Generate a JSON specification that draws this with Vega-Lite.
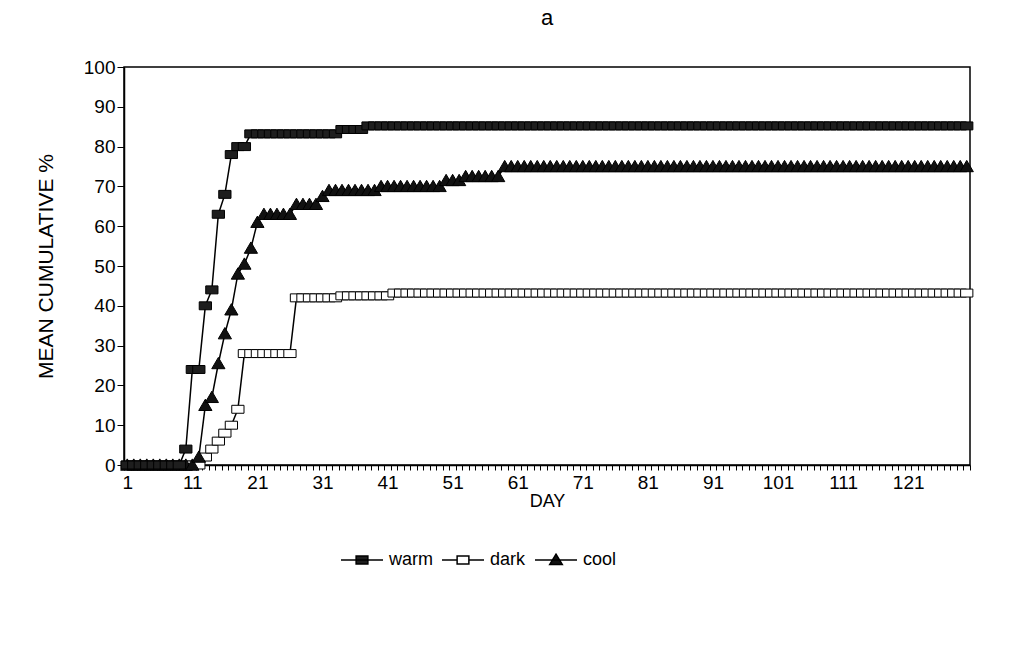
{
"$schema": "https://vega.github.io/schema/vega-lite/v6.json",
"width": 846,
"height": 398,
"autosize": {"type": "none"},
"padding": {"left": 124, "top": 67, "right": 65, "bottom": 207},
"background": "white",
"config": {
"font": "Liberation Sans",
"view": {"stroke": "black", "strokeWidth": 1.5},
"axis": {"labelFont": "Liberation Sans", "labelFontSize": 19, "labelColor": "black", "titleFont": "Liberation Sans", "titleFontSize": 18, "titleFontWeight": "normal", "titleColor": "black", "domainColor": "black", "domainWidth": 1.5, "tickColor": "black", "tickWidth": 1, "grid": false},
"legend": {"labelFont": "Liberation Sans", "labelFontSize": 18, "labelColor": "black"}
},
"title": {"text": "a", "font": "Liberation Sans", "fontSize": 22, "fontWeight": "normal", "color": "black", "offset": 28, "anchor": "middle"},
"datasets": {
"cum": [
{"day":1,"series":"dark","pct":0},{"day":2,"series":"dark","pct":0},{"day":3,"series":"dark","pct":0},{"day":4,"series":"dark","pct":0},{"day":5,"series":"dark","pct":0},{"day":6,"series":"dark","pct":0},{"day":7,"series":"dark","pct":0},{"day":8,"series":"dark","pct":0},{"day":9,"series":"dark","pct":0},{"day":10,"series":"dark","pct":0},
{"day":11,"series":"dark","pct":0},{"day":12,"series":"dark","pct":0},{"day":13,"series":"dark","pct":2},{"day":14,"series":"dark","pct":4},{"day":15,"series":"dark","pct":6},{"day":16,"series":"dark","pct":8},{"day":17,"series":"dark","pct":10},{"day":18,"series":"dark","pct":14},{"day":19,"series":"dark","pct":28},{"day":20,"series":"dark","pct":28},
{"day":21,"series":"dark","pct":28},{"day":22,"series":"dark","pct":28},{"day":23,"series":"dark","pct":28},{"day":24,"series":"dark","pct":28},{"day":25,"series":"dark","pct":28},{"day":26,"series":"dark","pct":28},{"day":27,"series":"dark","pct":42},{"day":28,"series":"dark","pct":42},{"day":29,"series":"dark","pct":42},{"day":30,"series":"dark","pct":42},
{"day":31,"series":"dark","pct":42},{"day":32,"series":"dark","pct":42},{"day":33,"series":"dark","pct":42},{"day":34,"series":"dark","pct":42.5},{"day":35,"series":"dark","pct":42.5},{"day":36,"series":"dark","pct":42.5},{"day":37,"series":"dark","pct":42.5},{"day":38,"series":"dark","pct":42.5},{"day":39,"series":"dark","pct":42.5},{"day":40,"series":"dark","pct":42.5},
{"day":41,"series":"dark","pct":42.5},{"day":42,"series":"dark","pct":43.2},{"day":43,"series":"dark","pct":43.2},{"day":44,"series":"dark","pct":43.2},{"day":45,"series":"dark","pct":43.2},{"day":46,"series":"dark","pct":43.2},{"day":47,"series":"dark","pct":43.2},{"day":48,"series":"dark","pct":43.2},{"day":49,"series":"dark","pct":43.2},{"day":50,"series":"dark","pct":43.2},
{"day":51,"series":"dark","pct":43.2},{"day":52,"series":"dark","pct":43.2},{"day":53,"series":"dark","pct":43.2},{"day":54,"series":"dark","pct":43.2},{"day":55,"series":"dark","pct":43.2},{"day":56,"series":"dark","pct":43.2},{"day":57,"series":"dark","pct":43.2},{"day":58,"series":"dark","pct":43.2},{"day":59,"series":"dark","pct":43.2},{"day":60,"series":"dark","pct":43.2},
{"day":61,"series":"dark","pct":43.2},{"day":62,"series":"dark","pct":43.2},{"day":63,"series":"dark","pct":43.2},{"day":64,"series":"dark","pct":43.2},{"day":65,"series":"dark","pct":43.2},{"day":66,"series":"dark","pct":43.2},{"day":67,"series":"dark","pct":43.2},{"day":68,"series":"dark","pct":43.2},{"day":69,"series":"dark","pct":43.2},{"day":70,"series":"dark","pct":43.2},
{"day":71,"series":"dark","pct":43.2},{"day":72,"series":"dark","pct":43.2},{"day":73,"series":"dark","pct":43.2},{"day":74,"series":"dark","pct":43.2},{"day":75,"series":"dark","pct":43.2},{"day":76,"series":"dark","pct":43.2},{"day":77,"series":"dark","pct":43.2},{"day":78,"series":"dark","pct":43.2},{"day":79,"series":"dark","pct":43.2},{"day":80,"series":"dark","pct":43.2},
{"day":81,"series":"dark","pct":43.2},{"day":82,"series":"dark","pct":43.2},{"day":83,"series":"dark","pct":43.2},{"day":84,"series":"dark","pct":43.2},{"day":85,"series":"dark","pct":43.2},{"day":86,"series":"dark","pct":43.2},{"day":87,"series":"dark","pct":43.2},{"day":88,"series":"dark","pct":43.2},{"day":89,"series":"dark","pct":43.2},{"day":90,"series":"dark","pct":43.2},
{"day":91,"series":"dark","pct":43.2},{"day":92,"series":"dark","pct":43.2},{"day":93,"series":"dark","pct":43.2},{"day":94,"series":"dark","pct":43.2},{"day":95,"series":"dark","pct":43.2},{"day":96,"series":"dark","pct":43.2},{"day":97,"series":"dark","pct":43.2},{"day":98,"series":"dark","pct":43.2},{"day":99,"series":"dark","pct":43.2},{"day":100,"series":"dark","pct":43.2},
{"day":101,"series":"dark","pct":43.2},{"day":102,"series":"dark","pct":43.2},{"day":103,"series":"dark","pct":43.2},{"day":104,"series":"dark","pct":43.2},{"day":105,"series":"dark","pct":43.2},{"day":106,"series":"dark","pct":43.2},{"day":107,"series":"dark","pct":43.2},{"day":108,"series":"dark","pct":43.2},{"day":109,"series":"dark","pct":43.2},{"day":110,"series":"dark","pct":43.2},
{"day":111,"series":"dark","pct":43.2},{"day":112,"series":"dark","pct":43.2},{"day":113,"series":"dark","pct":43.2},{"day":114,"series":"dark","pct":43.2},{"day":115,"series":"dark","pct":43.2},{"day":116,"series":"dark","pct":43.2},{"day":117,"series":"dark","pct":43.2},{"day":118,"series":"dark","pct":43.2},{"day":119,"series":"dark","pct":43.2},{"day":120,"series":"dark","pct":43.2},
{"day":121,"series":"dark","pct":43.2},{"day":122,"series":"dark","pct":43.2},{"day":123,"series":"dark","pct":43.2},{"day":124,"series":"dark","pct":43.2},{"day":125,"series":"dark","pct":43.2},{"day":126,"series":"dark","pct":43.2},{"day":127,"series":"dark","pct":43.2},{"day":128,"series":"dark","pct":43.2},{"day":129,"series":"dark","pct":43.2},{"day":130,"series":"dark","pct":43.2},
{"day":1,"series":"cool","pct":0},{"day":2,"series":"cool","pct":0},{"day":3,"series":"cool","pct":0},{"day":4,"series":"cool","pct":0},{"day":5,"series":"cool","pct":0},{"day":6,"series":"cool","pct":0},{"day":7,"series":"cool","pct":0},{"day":8,"series":"cool","pct":0},{"day":9,"series":"cool","pct":0},{"day":10,"series":"cool","pct":0},
{"day":11,"series":"cool","pct":0},{"day":12,"series":"cool","pct":2},{"day":13,"series":"cool","pct":15},{"day":14,"series":"cool","pct":17},{"day":15,"series":"cool","pct":25.5},{"day":16,"series":"cool","pct":33},{"day":17,"series":"cool","pct":39},{"day":18,"series":"cool","pct":48},{"day":19,"series":"cool","pct":50.5},{"day":20,"series":"cool","pct":54.5},
{"day":21,"series":"cool","pct":61},{"day":22,"series":"cool","pct":63},{"day":23,"series":"cool","pct":63},{"day":24,"series":"cool","pct":63},{"day":25,"series":"cool","pct":63},{"day":26,"series":"cool","pct":63},{"day":27,"series":"cool","pct":65.5},{"day":28,"series":"cool","pct":65.5},{"day":29,"series":"cool","pct":65.5},{"day":30,"series":"cool","pct":65.5},
{"day":31,"series":"cool","pct":67.5},{"day":32,"series":"cool","pct":69},{"day":33,"series":"cool","pct":69},{"day":34,"series":"cool","pct":69},{"day":35,"series":"cool","pct":69},{"day":36,"series":"cool","pct":69},{"day":37,"series":"cool","pct":69},{"day":38,"series":"cool","pct":69},{"day":39,"series":"cool","pct":69},{"day":40,"series":"cool","pct":70},
{"day":41,"series":"cool","pct":70},{"day":42,"series":"cool","pct":70},{"day":43,"series":"cool","pct":70},{"day":44,"series":"cool","pct":70},{"day":45,"series":"cool","pct":70},{"day":46,"series":"cool","pct":70},{"day":47,"series":"cool","pct":70},{"day":48,"series":"cool","pct":70},{"day":49,"series":"cool","pct":70},{"day":50,"series":"cool","pct":71.5},
{"day":51,"series":"cool","pct":71.5},{"day":52,"series":"cool","pct":71.5},{"day":53,"series":"cool","pct":72.5},{"day":54,"series":"cool","pct":72.5},{"day":55,"series":"cool","pct":72.5},{"day":56,"series":"cool","pct":72.5},{"day":57,"series":"cool","pct":72.5},{"day":58,"series":"cool","pct":72.5},{"day":59,"series":"cool","pct":75},{"day":60,"series":"cool","pct":75},
{"day":61,"series":"cool","pct":75},{"day":62,"series":"cool","pct":75},{"day":63,"series":"cool","pct":75},{"day":64,"series":"cool","pct":75},{"day":65,"series":"cool","pct":75},{"day":66,"series":"cool","pct":75},{"day":67,"series":"cool","pct":75},{"day":68,"series":"cool","pct":75},{"day":69,"series":"cool","pct":75},{"day":70,"series":"cool","pct":75},
{"day":71,"series":"cool","pct":75},{"day":72,"series":"cool","pct":75},{"day":73,"series":"cool","pct":75},{"day":74,"series":"cool","pct":75},{"day":75,"series":"cool","pct":75},{"day":76,"series":"cool","pct":75},{"day":77,"series":"cool","pct":75},{"day":78,"series":"cool","pct":75},{"day":79,"series":"cool","pct":75},{"day":80,"series":"cool","pct":75},
{"day":81,"series":"cool","pct":75},{"day":82,"series":"cool","pct":75},{"day":83,"series":"cool","pct":75},{"day":84,"series":"cool","pct":75},{"day":85,"series":"cool","pct":75},{"day":86,"series":"cool","pct":75},{"day":87,"series":"cool","pct":75},{"day":88,"series":"cool","pct":75},{"day":89,"series":"cool","pct":75},{"day":90,"series":"cool","pct":75},
{"day":91,"series":"cool","pct":75},{"day":92,"series":"cool","pct":75},{"day":93,"series":"cool","pct":75},{"day":94,"series":"cool","pct":75},{"day":95,"series":"cool","pct":75},{"day":96,"series":"cool","pct":75},{"day":97,"series":"cool","pct":75},{"day":98,"series":"cool","pct":75},{"day":99,"series":"cool","pct":75},{"day":100,"series":"cool","pct":75},
{"day":101,"series":"cool","pct":75},{"day":102,"series":"cool","pct":75},{"day":103,"series":"cool","pct":75},{"day":104,"series":"cool","pct":75},{"day":105,"series":"cool","pct":75},{"day":106,"series":"cool","pct":75},{"day":107,"series":"cool","pct":75},{"day":108,"series":"cool","pct":75},{"day":109,"series":"cool","pct":75},{"day":110,"series":"cool","pct":75},
{"day":111,"series":"cool","pct":75},{"day":112,"series":"cool","pct":75},{"day":113,"series":"cool","pct":75},{"day":114,"series":"cool","pct":75},{"day":115,"series":"cool","pct":75},{"day":116,"series":"cool","pct":75},{"day":117,"series":"cool","pct":75},{"day":118,"series":"cool","pct":75},{"day":119,"series":"cool","pct":75},{"day":120,"series":"cool","pct":75},
{"day":121,"series":"cool","pct":75},{"day":122,"series":"cool","pct":75},{"day":123,"series":"cool","pct":75},{"day":124,"series":"cool","pct":75},{"day":125,"series":"cool","pct":75},{"day":126,"series":"cool","pct":75},{"day":127,"series":"cool","pct":75},{"day":128,"series":"cool","pct":75},{"day":129,"series":"cool","pct":75},{"day":130,"series":"cool","pct":75},
{"day":1,"series":"warm","pct":0},{"day":2,"series":"warm","pct":0},{"day":3,"series":"warm","pct":0},{"day":4,"series":"warm","pct":0},{"day":5,"series":"warm","pct":0},{"day":6,"series":"warm","pct":0},{"day":7,"series":"warm","pct":0},{"day":8,"series":"warm","pct":0},{"day":9,"series":"warm","pct":0},{"day":10,"series":"warm","pct":4},
{"day":11,"series":"warm","pct":24},{"day":12,"series":"warm","pct":24},{"day":13,"series":"warm","pct":40},{"day":14,"series":"warm","pct":44},{"day":15,"series":"warm","pct":63},{"day":16,"series":"warm","pct":68},{"day":17,"series":"warm","pct":78},{"day":18,"series":"warm","pct":80},{"day":19,"series":"warm","pct":80},{"day":20,"series":"warm","pct":83.2},
{"day":21,"series":"warm","pct":83.2},{"day":22,"series":"warm","pct":83.2},{"day":23,"series":"warm","pct":83.2},{"day":24,"series":"warm","pct":83.2},{"day":25,"series":"warm","pct":83.2},{"day":26,"series":"warm","pct":83.2},{"day":27,"series":"warm","pct":83.2},{"day":28,"series":"warm","pct":83.2},{"day":29,"series":"warm","pct":83.2},{"day":30,"series":"warm","pct":83.2},
{"day":31,"series":"warm","pct":83.2},{"day":32,"series":"warm","pct":83.2},{"day":33,"series":"warm","pct":83.2},{"day":34,"series":"warm","pct":84.3},{"day":35,"series":"warm","pct":84.3},{"day":36,"series":"warm","pct":84.3},{"day":37,"series":"warm","pct":84.3},{"day":38,"series":"warm","pct":85.2},{"day":39,"series":"warm","pct":85.2},{"day":40,"series":"warm","pct":85.2},
{"day":41,"series":"warm","pct":85.2},{"day":42,"series":"warm","pct":85.2},{"day":43,"series":"warm","pct":85.2},{"day":44,"series":"warm","pct":85.2},{"day":45,"series":"warm","pct":85.2},{"day":46,"series":"warm","pct":85.2},{"day":47,"series":"warm","pct":85.2},{"day":48,"series":"warm","pct":85.2},{"day":49,"series":"warm","pct":85.2},{"day":50,"series":"warm","pct":85.2},
{"day":51,"series":"warm","pct":85.2},{"day":52,"series":"warm","pct":85.2},{"day":53,"series":"warm","pct":85.2},{"day":54,"series":"warm","pct":85.2},{"day":55,"series":"warm","pct":85.2},{"day":56,"series":"warm","pct":85.2},{"day":57,"series":"warm","pct":85.2},{"day":58,"series":"warm","pct":85.2},{"day":59,"series":"warm","pct":85.2},{"day":60,"series":"warm","pct":85.2},
{"day":61,"series":"warm","pct":85.2},{"day":62,"series":"warm","pct":85.2},{"day":63,"series":"warm","pct":85.2},{"day":64,"series":"warm","pct":85.2},{"day":65,"series":"warm","pct":85.2},{"day":66,"series":"warm","pct":85.2},{"day":67,"series":"warm","pct":85.2},{"day":68,"series":"warm","pct":85.2},{"day":69,"series":"warm","pct":85.2},{"day":70,"series":"warm","pct":85.2},
{"day":71,"series":"warm","pct":85.2},{"day":72,"series":"warm","pct":85.2},{"day":73,"series":"warm","pct":85.2},{"day":74,"series":"warm","pct":85.2},{"day":75,"series":"warm","pct":85.2},{"day":76,"series":"warm","pct":85.2},{"day":77,"series":"warm","pct":85.2},{"day":78,"series":"warm","pct":85.2},{"day":79,"series":"warm","pct":85.2},{"day":80,"series":"warm","pct":85.2},
{"day":81,"series":"warm","pct":85.2},{"day":82,"series":"warm","pct":85.2},{"day":83,"series":"warm","pct":85.2},{"day":84,"series":"warm","pct":85.2},{"day":85,"series":"warm","pct":85.2},{"day":86,"series":"warm","pct":85.2},{"day":87,"series":"warm","pct":85.2},{"day":88,"series":"warm","pct":85.2},{"day":89,"series":"warm","pct":85.2},{"day":90,"series":"warm","pct":85.2},
{"day":91,"series":"warm","pct":85.2},{"day":92,"series":"warm","pct":85.2},{"day":93,"series":"warm","pct":85.2},{"day":94,"series":"warm","pct":85.2},{"day":95,"series":"warm","pct":85.2},{"day":96,"series":"warm","pct":85.2},{"day":97,"series":"warm","pct":85.2},{"day":98,"series":"warm","pct":85.2},{"day":99,"series":"warm","pct":85.2},{"day":100,"series":"warm","pct":85.2},
{"day":101,"series":"warm","pct":85.2},{"day":102,"series":"warm","pct":85.2},{"day":103,"series":"warm","pct":85.2},{"day":104,"series":"warm","pct":85.2},{"day":105,"series":"warm","pct":85.2},{"day":106,"series":"warm","pct":85.2},{"day":107,"series":"warm","pct":85.2},{"day":108,"series":"warm","pct":85.2},{"day":109,"series":"warm","pct":85.2},{"day":110,"series":"warm","pct":85.2},
{"day":111,"series":"warm","pct":85.2},{"day":112,"series":"warm","pct":85.2},{"day":113,"series":"warm","pct":85.2},{"day":114,"series":"warm","pct":85.2},{"day":115,"series":"warm","pct":85.2},{"day":116,"series":"warm","pct":85.2},{"day":117,"series":"warm","pct":85.2},{"day":118,"series":"warm","pct":85.2},{"day":119,"series":"warm","pct":85.2},{"day":120,"series":"warm","pct":85.2},
{"day":121,"series":"warm","pct":85.2},{"day":122,"series":"warm","pct":85.2},{"day":123,"series":"warm","pct":85.2},{"day":124,"series":"warm","pct":85.2},{"day":125,"series":"warm","pct":85.2},{"day":126,"series":"warm","pct":85.2},{"day":127,"series":"warm","pct":85.2},{"day":128,"series":"warm","pct":85.2},{"day":129,"series":"warm","pct":85.2},{"day":130,"series":"warm","pct":85.2}
]
},
"data": {"name": "cum"},
"encoding": {
"x": {"field": "day", "type": "quantitative", "scale": {"domain": [0.5, 130.5], "nice": false, "zero": false},
 "axis": {"title": "DAY", "titlePadding": 0, "tickSize": 5, "labelPadding": 3, "labelOffset": 3.25, "labelFlush": false, "labelOverlap": false,
  "labelExpr": "(datum.value + 0.5) % 10 == 1 && datum.value < 125 ? '' + (datum.value + 0.5) : ''",
  "values": [0.5,1.5,2.5,3.5,4.5,5.5,6.5,7.5,8.5,9.5,10.5,11.5,12.5,13.5,14.5,15.5,16.5,17.5,18.5,19.5,20.5,21.5,22.5,23.5,24.5,25.5,26.5,27.5,28.5,29.5,30.5,31.5,32.5,33.5,34.5,35.5,36.5,37.5,38.5,39.5,40.5,41.5,42.5,43.5,44.5,45.5,46.5,47.5,48.5,49.5,50.5,51.5,52.5,53.5,54.5,55.5,56.5,57.5,58.5,59.5,60.5,61.5,62.5,63.5,64.5,65.5,66.5,67.5,68.5,69.5,70.5,71.5,72.5,73.5,74.5,75.5,76.5,77.5,78.5,79.5,80.5,81.5,82.5,83.5,84.5,85.5,86.5,87.5,88.5,89.5,90.5,91.5,92.5,93.5,94.5,95.5,96.5,97.5,98.5,99.5,100.5,101.5,102.5,103.5,104.5,105.5,106.5,107.5,108.5,109.5,110.5,111.5,112.5,113.5,114.5,115.5,116.5,117.5,118.5,119.5,120.5,121.5,122.5,123.5,124.5,125.5,126.5,127.5,128.5,129.5,130.5]}},
"y": {"field": "pct", "type": "quantitative", "scale": {"domain": [0, 100], "nice": false},
 "axis": {"title": "MEAN CUMULATIVE %", "titleFontSize": 21, "titlePadding": 27, "tickSize": 7, "labelPadding": 2, "values": [0,10,20,30,40,50,60,70,80,90,100]}}
},
"layer": [
{"mark": {"type": "line", "color": "black", "strokeWidth": 1.5},
 "encoding": {"detail": {"field": "series"}, "order": {"field": "day"}}},
{"mark": {"type": "point", "filled": true, "size": 150, "stroke": "black", "strokeWidth": 1, "opacity": 1},
 "encoding": {
  "shape": {"field": "series", "type": "nominal", "scale": {"domain": ["warm", "dark", "cool"], "range": ["M-1,-0.65H1V0.65H-1Z", "M-1,-0.65H1V0.65H-1Z", "M0,-1L1.08,0.85H-1.08Z"]}, "legend": null},
  "fill": {"field": "series", "type": "nominal", "scale": {"domain": ["warm", "dark", "cool"], "range": ["#1e1e1e", "#ffffff", "#111111"]}, "legend": null}
 }},
{"transform": [{"filter": "false"}],
 "mark": {"type": "point", "filled": true, "size": 1764, "strokeWidth": 1.5, "opacity": 1},
 "encoding": {
  "shape": {"field": "series", "type": "nominal", "scale": {"domain": ["warm", "dark", "cool"], "range": ["M-1,0H1M-0.28,-0.19H0.28V0.19H-0.28Z", "M-1,0H-0.28M0.28,0H1M-0.28,-0.19H0.28V0.19H-0.28Z", "M-1,0H1M0,-0.28L0.3,0.22H-0.3Z"]},
   "legend": {"title": null, "orient": "none", "direction": "horizontal", "legendX": 216, "legendY": 471, "symbolSize": 1764, "symbolStrokeWidth": 1.5, "symbolOpacity": 1, "labelOffset": 5, "columnPadding": 6, "labelFontSize": 18}},
  "fill": {"field": "series", "type": "nominal", "scale": {"domain": ["warm", "dark", "cool"], "range": ["#1e1e1e", "#ffffff", "#111111"]},
   "legend": {"title": null, "orient": "none", "direction": "horizontal", "legendX": 216, "legendY": 471, "symbolSize": 1764, "symbolStrokeWidth": 1.5, "symbolOpacity": 1, "labelOffset": 5, "columnPadding": 6, "labelFontSize": 18}},
  "stroke": {"field": "series", "type": "nominal", "scale": {"domain": ["warm", "dark", "cool"], "range": ["#000000", "#000000", "#000000"]},
   "legend": {"title": null, "orient": "none", "direction": "horizontal", "legendX": 216, "legendY": 471, "symbolSize": 1764, "symbolStrokeWidth": 1.5, "symbolOpacity": 1, "labelOffset": 5, "columnPadding": 6, "labelFontSize": 18}}
 }}
],
"resolve": {"scale": {"shape": "independent", "fill": "independent", "stroke": "independent"}}
}
